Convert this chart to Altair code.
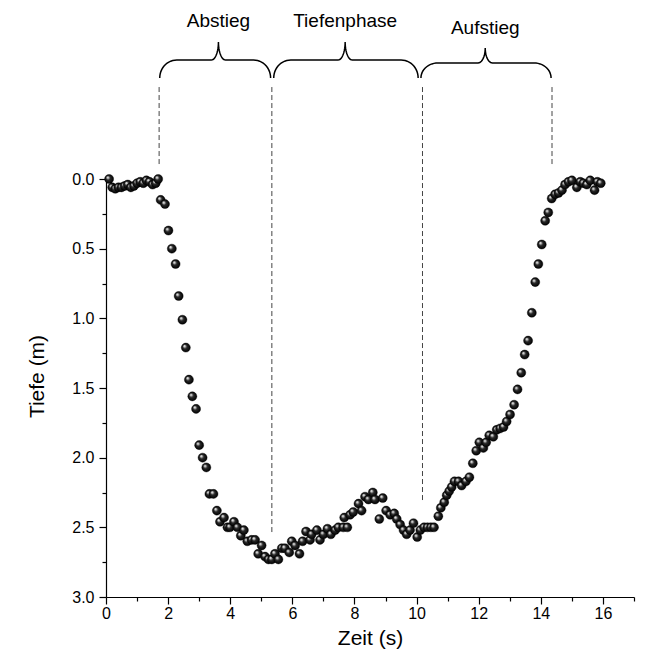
import altair as alt
import numpy as np
import pandas as pd

# ---- measured dive profile ----
time_s = [0.10, 0.20, 0.30, 0.40, 0.50, 0.60, 0.70, 0.80, 0.90, 1.00, 1.10, 1.20, 1.30, 1.40,
          1.50, 1.60, 1.68, 1.76, 1.90, 2.01, 2.12, 2.24, 2.34, 2.46, 2.57, 2.67, 2.78, 2.90,
          3.00, 3.11, 3.23, 3.33, 3.46, 3.57, 3.67, 3.80, 3.91, 3.99, 4.12, 4.23, 4.34, 4.44,
          4.55, 4.69, 4.80, 4.90, 5.01, 5.12, 5.23, 5.34, 5.44, 5.55, 5.66, 5.76, 5.90, 5.98,
          6.09, 6.23, 6.33, 6.44, 6.57, 6.62, 6.79, 6.89, 7.00, 7.13, 7.24, 7.38, 7.48, 7.64,
          7.67, 7.77, 7.86, 7.96, 8.13, 8.23, 8.34, 8.45, 8.59, 8.66, 8.80, 8.91, 9.02, 9.15,
          9.28, 9.36, 9.47, 9.58, 9.68, 9.79, 9.90, 10.02, 10.12, 10.24, 10.35, 10.46, 10.56,
          10.70, 10.78, 10.89, 10.97, 11.05, 11.13, 11.22, 11.35, 11.45, 11.59, 11.70, 11.81,
          11.92, 12.02, 12.15, 12.24, 12.34, 12.47, 12.58, 12.69, 12.80, 12.90, 13.01, 13.14,
          13.25, 13.37, 13.48, 13.59, 13.71, 13.82, 13.92, 14.03, 14.14, 14.24, 14.35, 14.46,
          14.57, 14.68, 14.78, 14.89, 15.00, 15.16, 15.27, 15.37, 15.48, 15.59, 15.73, 15.82,
          15.93]
depth_m = [0.00, 0.06, 0.07, 0.06, 0.06, 0.05, 0.04, 0.06, 0.05, 0.03, 0.02, 0.03, 0.01, 0.02,
           0.04, 0.03, 0.00, 0.15, 0.18, 0.37, 0.50, 0.61, 0.84, 1.01, 1.21, 1.44, 1.56, 1.65,
           1.91, 2.00, 2.07, 2.26, 2.26, 2.38, 2.46, 2.43, 2.50, 2.50, 2.46, 2.50, 2.56, 2.52,
           2.60, 2.59, 2.59, 2.69, 2.63, 2.71, 2.73, 2.73, 2.69, 2.73, 2.65, 2.65, 2.68, 2.60,
           2.63, 2.69, 2.60, 2.53, 2.59, 2.55, 2.52, 2.59, 2.55, 2.51, 2.55, 2.52, 2.50, 2.50,
           2.43, 2.50, 2.41, 2.39, 2.33, 2.38, 2.28, 2.30, 2.25, 2.30, 2.44, 2.29, 2.38, 2.41,
           2.40, 2.44, 2.48, 2.52, 2.55, 2.52, 2.47, 2.57, 2.52, 2.50, 2.50, 2.50, 2.50,
           2.42, 2.36, 2.32, 2.27, 2.24, 2.21, 2.17, 2.17, 2.20, 2.17, 2.14, 2.04,
           1.95, 1.89, 1.93, 1.89, 1.84, 1.85, 1.80, 1.79, 1.78, 1.74, 1.69, 1.62,
           1.51, 1.39, 1.26, 1.16, 0.96, 0.74, 0.61, 0.47, 0.30, 0.24, 0.14, 0.11,
           0.10, 0.08, 0.04, 0.02, 0.01, 0.06, 0.02, 0.03, 0.04, 0.01, 0.08, 0.02,
           0.03]

# ---- phase annotations (above the plot, negative depth = above surface line) ----
phase_names = ["Abstieg", "Tiefenphase", "Aufstieg"]
phase_start = [1.73, 5.40, 10.14]
phase_end = [5.30, 10.05, 14.33]
phase_peak = [3.62, 7.70, 12.21]
brace_tip = [-0.725, -0.725, -0.725]
brace_line = [-0.854, -0.854, -0.833]
brace_top = [-0.983, -0.983, -0.940]
label_y = [-1.134, -1.134, -1.084]

boundary_x = [1.71, 5.34, 10.19, 14.36]
boundary_top = [-0.66, -0.66, -0.66, -0.66]
boundary_end = [-0.10, 2.54, 2.32, -0.10]

FONT = "Liberation Sans"

pts = pd.DataFrame({"t": time_s, "d": depth_m})


def brace(name, x0, x1, xm, yt, yl, yp, rx=0.55, mx=0.23, n=14):
    th = np.linspace(0, np.pi / 2, n)
    ry = yt - yl
    hy = yl - yp
    xs = np.concatenate([
        x0 + rx - rx * np.cos(th),
        xm - mx + mx * np.sin(th),
        xm + mx - mx * np.cos(th),
        x1 - rx + rx * np.sin(th),
    ])
    ys = np.concatenate([
        yt - ry * np.sin(th),
        yp + hy * np.cos(th),
        yp + hy * np.sin(th),
        yt - ry * np.cos(th),
    ])
    return pd.DataFrame({"t": xs, "d": ys, "phase": name, "k": np.arange(len(xs))})


braces = pd.concat([
    brace(phase_names[i], phase_start[i], phase_end[i], phase_peak[i],
          brace_tip[i], brace_line[i], brace_top[i])
    for i in range(3)
], ignore_index=True)

labels = pd.DataFrame({"t": phase_peak, "d": label_y, "phase": phase_names})
rules = pd.DataFrame({"t": boundary_x, "d": boundary_top, "d2": boundary_end})

xscale = alt.Scale(domain=[0, 17], nice=False, zero=False)
yscale = alt.Scale(domain=[0, 3], reverse=True, nice=False, zero=False)

xaxis = alt.Axis(
    title="Zeit (s)",
    values=list(range(0, 18)),
    labelExpr="datum.value % 2 === 0 ? datum.label : ''",
    tickSize={"condition": {"test": "datum.value % 2 === 0", "value": 7}, "value": 4},
    labelPadding=1,
    titlePadding=6,
    labelOverlap=False,
    labelFlush=False,
    grid=False,
)
yaxis = alt.Axis(
    title="Tiefe (m)",
    values=[i * 0.25 for i in range(13)],
    format=".1f",
    labelExpr="datum.value % 0.5 === 0 ? datum.label : ''",
    tickSize={"condition": {"test": "datum.value % 0.5 === 0", "value": 7}, "value": 4},
    labelPadding=5,
    titlePadding=24,
    titleY=197,
    labelOverlap=False,
    labelFlush=False,
    grid=False,
)

sphere = {
    "gradient": "radial",
    "x1": 0.32, "y1": 0.3, "r1": 0.0,
    "x2": 0.5, "y2": 0.5, "r2": 0.5,
    "stops": [
        {"offset": 0.0, "color": "#ffffff"},
        {"offset": 0.18, "color": "#c8c8c8"},
        {"offset": 0.45, "color": "#2a2a2a"},
        {"offset": 1.0, "color": "#000000"},
    ],
}

X = alt.X("t:Q", scale=xscale, axis=xaxis)
Y = alt.Y("d:Q", scale=yscale, axis=yaxis)

points = alt.Chart(pts).mark_point(
    filled=True, fill=sphere, size=82, opacity=1, stroke="#000000", strokeWidth=0.4
).encode(x=X, y=Y)

dashed = alt.Chart(rules).mark_rule(
    strokeDash=[5, 3], color="#444444", strokeWidth=1
).encode(x=X, y=Y, y2="d2:Q")

brace_lines = alt.Chart(braces).mark_line(
    color="#000000", strokeWidth=1.5
).encode(x=X, y=Y, detail="phase:N", order="k:Q")

texts = alt.Chart(labels).mark_text(
    font=FONT, fontSize=19, color="#000000", align="center", baseline="middle"
).encode(x=X, y=Y, text="phase:N")

chart = alt.layer(dashed, brace_lines, texts, points).properties(
    width=528,
    height=418,
    autosize="none",
    padding={"left": 98, "top": 171, "right": 17, "bottom": 52},
).configure_view(stroke=None).configure_axis(
    domainColor="#000000",
    domainWidth=1.2,
    tickColor="#000000",
    tickWidth=1.2,
    labelColor="#000000",
    titleColor="#000000",
    labelFont=FONT,
    titleFont=FONT,
    labelFontSize=16,
    titleFontSize=21,
    titleFontWeight="normal",
)

chart.save("out.html", embed_options={"renderer": "svg", "actions": False})
